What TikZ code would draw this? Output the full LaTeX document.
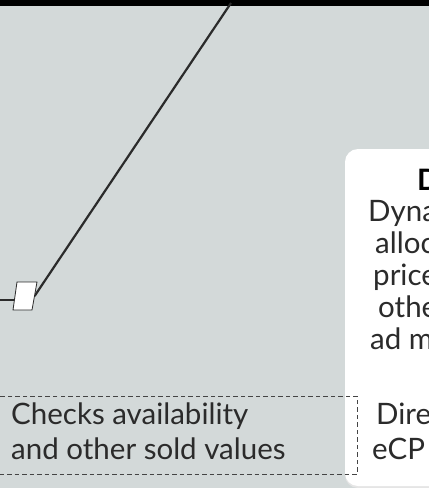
\documentclass[tikz,border=0pt]{standalone}
\usepackage{fontspec}
\setmainfont{Lato}
\definecolor{bg}{HTML}{D3D9D9}
\definecolor{ink}{HTML}{2B2B2B}
\definecolor{dashc}{HTML}{444444}
\begin{document}
\begin{tikzpicture}[x=1pt,y=-1pt,
  txt/.style={anchor=base west, inner sep=0pt, text=ink, font=\fontsize{29.5}{35}\selectfont},
  head/.style={anchor=base west, inner sep=0pt, text=black, font=\fontsize{29.5}{35}\selectfont\bfseries},
  link/.style={draw=ink, line width=2.2pt},
  gate/.style={fill=white, draw=ink, line width=0.8pt},
  dashbox/.style={draw=dashc, line width=1pt, dash pattern=on 4.5pt off 3pt},
  card/.style={fill=white, rounded corners=13pt}]
\useasboundingbox (0,0) rectangle (429,488);
\fill[bg] (0,0) rectangle (429,488);
\fill[black] (0,0) rectangle (429,6);
% white card with faint shadow
\fill[black!10, rounded corners=13pt] (345,151) rectangle (480,488);
\path[card] (345,149) rectangle (480,486);
% dashed box
\draw[dashbox] (-5,396) rectangle (357,474);
% connectors
\coordinate (src) at (231,3);
\coordinate (pr) at (34.6,296);
\coordinate (lin) at (-2,300);
\coordinate (pl) at (14.4,300);
\draw[link] (src) -- (pr);
\draw[link] (lin) -- (pl);
\path[gate] (17,282) -- (37,282) -- (32,310) -- (13,310) -- cycle;
% left texts
\node[txt] (c1) at (11,424) {Checks availability};
\node[txt] (c2) at (11,459) {and other sold values};
% card texts
\node[head] (h) at (417,190) {D};
\node[txt] (t1) at (368,221) {Dyna};
\node[txt] (t2) at (375,253) {alloc};
\node[txt] (t3) at (373,285) {price};
\node[txt] (t4) at (378,317) {othe};
\node[txt] (t5) at (370,349) {ad m};
\node[txt] (t6) at (376,424) {Dire};
\node[txt] (t7) at (372,459) {eCP};
\end{tikzpicture}
\end{document}
